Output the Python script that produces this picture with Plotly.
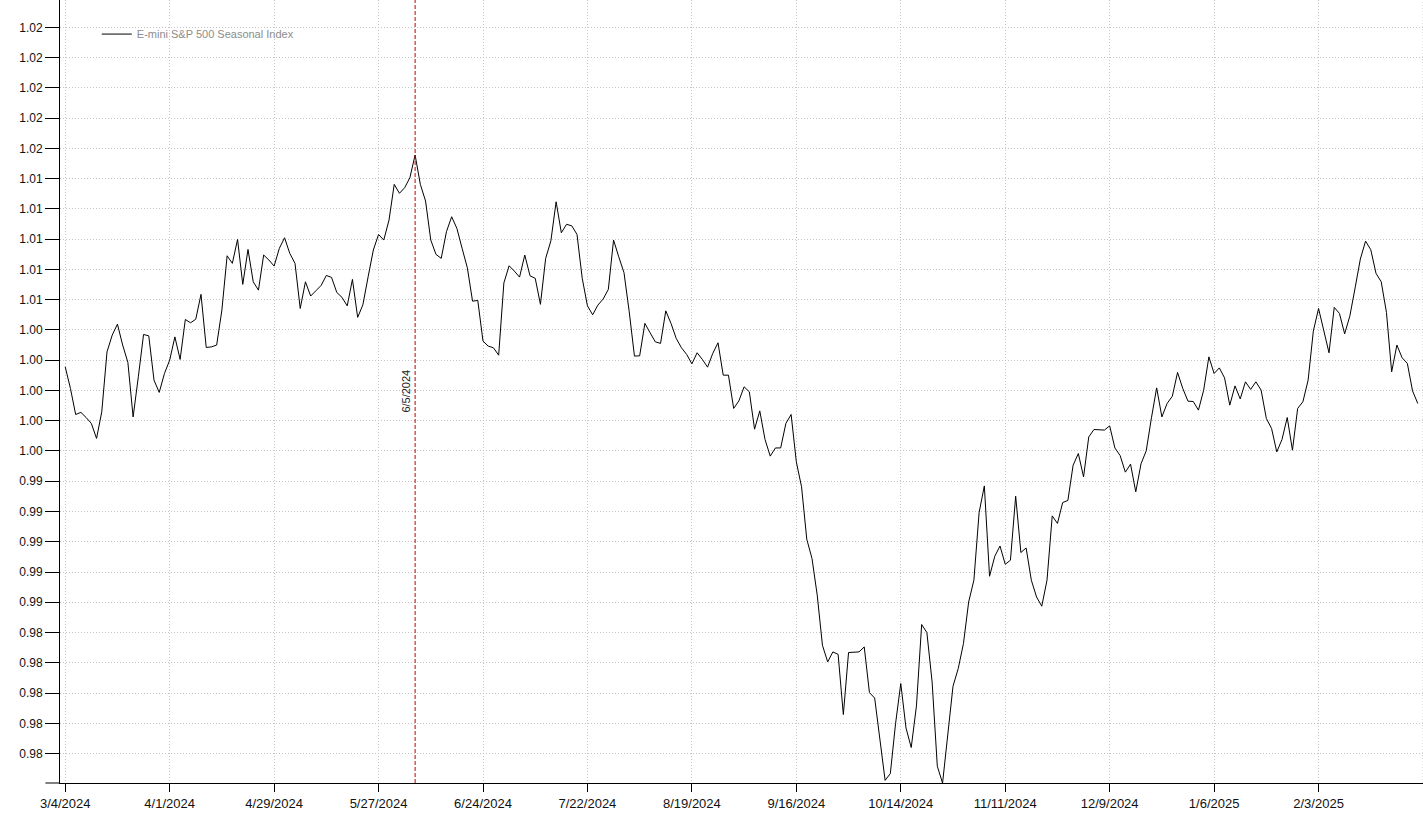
import pandas as pd
import plotly.graph_objects as go

# trading days (weekdays) plotted evenly, one point per day
dates = [f"{d.month}/{d.day}/{d.year}" for d in pd.bdate_range("2024-03-04", periods=260)]

tick_labels = ["3/4/2024", "4/1/2024", "4/29/2024", "5/27/2024", "6/24/2024", "7/22/2024",
               "8/19/2024", "9/16/2024", "10/14/2024", "11/11/2024", "12/9/2024",
               "1/6/2025", "2/3/2025"]

marker_date = "6/5/2024"
series_name = "E-mini S&P 500 Seasonal Index"

# seasonal index values
seasonal_index = [
    1.00156, 1.00013, 0.99841, 0.99855, 0.99821, 0.99782, 0.99683, 0.99859, 1.00255, 1.00366,
    1.00438, 1.00300, 1.00185, 0.99825, 1.00090, 1.00370, 1.00361, 1.00068, 0.99987, 1.00112,
    1.00200, 1.00354, 1.00205, 1.00469, 1.00447, 1.00471, 1.00635, 1.00284, 1.00288, 1.00300,
    1.00531, 1.00890, 1.00840, 1.00998, 1.00701, 1.00932, 1.00718, 1.00663, 1.00895, 1.00862,
    1.00822, 1.00939, 1.01009, 1.00906, 1.00840, 1.00542, 1.00718, 1.00624, 1.00659, 1.00694,
    1.00760, 1.00747, 1.00648, 1.00615, 1.00559, 1.00734, 1.00483, 1.00566, 1.00751, 1.00928,
    1.01031, 1.00994, 1.01126, 1.01362, 1.01303, 1.01340, 1.01406, 1.01556, 1.01362, 1.01252,
    1.00994, 1.00899, 1.00873, 1.01049, 1.01148, 1.01071, 1.00939, 1.00811, 1.00590, 1.00595,
    1.00326, 1.00293, 1.00282, 1.00233, 1.00711, 1.00824, 1.00789, 1.00749, 1.00895, 1.00758,
    1.00741, 1.00569, 1.00873, 1.00989, 1.01247, 1.01042, 1.01098, 1.01088, 1.01031, 1.00741,
    1.00559, 1.00500, 1.00564, 1.00604, 1.00668, 1.00994, 1.00883, 1.00778, 1.00520, 1.00227,
    1.00229, 1.00443, 1.00381, 1.00321, 1.00311, 1.00526, 1.00443, 1.00344, 1.00282, 1.00238,
    1.00176, 1.00249, 1.00205, 1.00154, 1.00245, 1.00315, 1.00101, 1.00101, 0.99881, 0.99931,
    1.00024, 0.99991, 0.99744, 0.99865, 0.99676, 0.99566, 0.99620, 0.99620, 0.99782, 0.99841,
    0.99528, 0.99363, 0.99017, 0.98889, 0.98647, 0.98316, 0.98206, 0.98272, 0.98256, 0.97858,
    0.98268, 0.98272, 0.98272, 0.98305, 0.98003, 0.97967, 0.97677, 0.97423, 0.97468, 0.97798,
    0.98063, 0.97769, 0.97640, 0.97915, 0.98453, 0.98400, 0.98073, 0.97516, 0.97405, 0.97749,
    0.98045, 0.98162, 0.98327, 0.98602, 0.98746, 0.99193, 0.99369, 0.98772, 0.98904, 0.98972,
    0.98851, 0.98878, 0.99301, 0.98929, 0.98959, 0.98746, 0.98635, 0.98574, 0.98746, 0.99171,
    0.99121, 0.99259, 0.99273, 0.99506, 0.99583, 0.99429, 0.99693, 0.99742, 0.99742, 0.99738,
    0.99766, 0.99620, 0.99570, 0.99460, 0.99513, 0.99330, 0.99515, 0.99601, 0.99819, 1.00017,
    0.99825, 0.99914, 0.99962, 1.00119, 1.00013, 0.99929, 0.99927, 0.99870, 1.00002, 1.00222,
    1.00112, 1.00149, 1.00083, 0.99903, 1.00030, 0.99944, 1.00057, 1.00007, 1.00057, 1.00002,
    0.99815, 0.99749, 0.99594, 0.99676, 0.99821, 0.99605, 0.99881, 0.99925, 1.00068, 1.00392,
    1.00542, 1.00392, 1.00249, 1.00549, 1.00509, 1.00374, 1.00493, 1.00678, 1.00868, 1.00987,
    1.00930, 1.00774, 1.00718, 1.00516, 1.00123, 1.00300, 1.00216, 1.00179, 0.99997, 0.99914,
]

font = "Liberation Sans, Arial, sans-serif"
grid = dict(showgrid=True, gridcolor="#c4c4c4", griddash="1px,2px", gridwidth=1)

fig = go.Figure()
fig.add_trace(go.Scatter(x=dates, y=seasonal_index, mode="lines", name=series_name,
                         line=dict(color="black", width=1)))

# red dashed marker line for the current date
fig.add_shape(type="line", xref="x", yref="paper", x0=marker_date, x1=marker_date, y0=0, y1=1,
              line=dict(color="#c00000", width=1, dash="4px,2px"))
fig.add_annotation(x=marker_date, y=0.5, xref="x", yref="paper", text=marker_date,
                   textangle=-90, showarrow=False, xshift=-10,
                   font=dict(family=font, size=11, color="#222222"))

# last grid line at the right edge and the axis stub left of the y axis
fig.add_shape(type="line", xref="x", yref="paper", x0=260, x1=260, y0=0, y1=1,
              line=dict(color="#c4c4c4", width=1, dash="1px,2px"))
fig.add_shape(type="line", xref="paper", yref="paper", x0=-0.0107, x1=0, y0=0, y1=0,
              line=dict(color="black", width=1))

fig.update_layout(
    width=1423, height=827,
    margin=dict(l=60, r=0, t=0, b=44),
    paper_bgcolor="white", plot_bgcolor="white",
    font=dict(family=font, size=12, color="#111111"),
    showlegend=True,
    legend=dict(x=0.027, y=0.975, xanchor="left", yanchor="top", bgcolor="rgba(0,0,0,0)",
                font=dict(family=font, size=11, color="#8c8c8c")),
)
fig.update_xaxes(type="category", range=[-1, 260],
                 tickmode="array", tickvals=tick_labels, ticktext=tick_labels,
                 tickfont=dict(size=13), ticks="outside", ticklen=8, tickcolor="black",
                 showline=True, linecolor="black", linewidth=1, **grid)
fig.update_yaxes(range=[0.974056, 1.025805], tick0=0.976, dtick=0.002, tickformat=".2f",
                 tickfont=dict(size=12), ticks="outside", ticklen=14, tickcolor="black",
                 showline=True, linecolor="black", linewidth=1, zeroline=False, **grid)

# page has a default 8px body margin; drop it so the chart fills the window
fig.write_html("out.html", config={"displayModeBar": False},
               post_script="document.body.style.margin='0';")
